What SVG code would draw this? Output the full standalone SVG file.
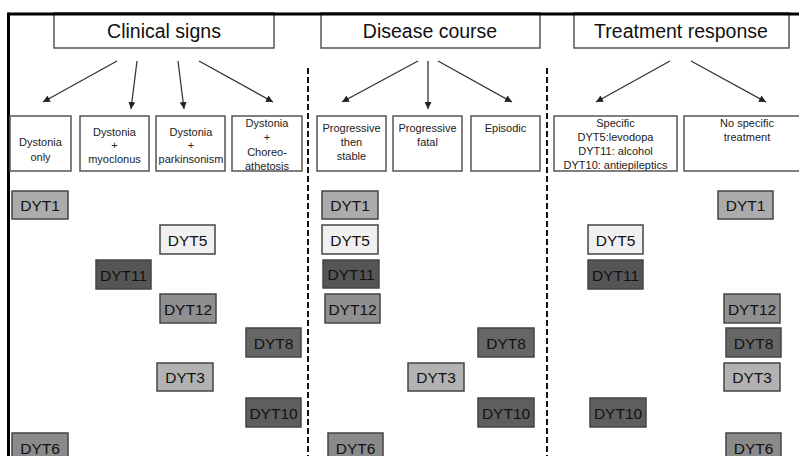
<svg xmlns="http://www.w3.org/2000/svg" width="799" height="456" viewBox="0 0 799 456">
<defs>
<style>
.frame{stroke:#000;stroke-width:3;fill:none}
.box{fill:#fff;stroke:#555;stroke-width:1.5}
.title{font-family:"Liberation Sans",Arial,sans-serif;font-size:19.5px;fill:#111;text-anchor:middle}
.cat{font-family:"Liberation Sans",Arial,sans-serif;font-size:11px;fill:#222;text-anchor:middle}
.dyt rect{stroke:#444;stroke-width:1.5}
.dyt text{font-family:"Liberation Sans",Arial,sans-serif;font-size:15.5px;fill:#111;text-anchor:middle}
.arrow{stroke:#333;stroke-width:1.3;fill:none;marker-end:url(#ah)}
.sep{stroke:#111;stroke-width:2;stroke-dasharray:6 3;fill:none}
.c1{fill:#ababab}.c5{fill:#f0f0f0}.c11{fill:#555}.c12{fill:#8f8f8f}.c8{fill:#666}.c3{fill:#b2b2b2}.c10{fill:#5e5e5e}.c6{fill:#8a8a8a}
</style>
<marker id="ah" viewBox="0 0 10 10" refX="10" refY="5" markerWidth="7" markerHeight="7" markerUnits="userSpaceOnUse" orient="auto">
<path d="M0,0 L10,5 L0,10 z" fill="#222"/>
</marker>
</defs>
<rect width="799" height="456" fill="#fff"/>

<g id="separators">
<line class="sep" x1="308" y1="68" x2="308" y2="456"/>
<line class="sep" x1="547" y1="68" x2="547" y2="456"/>
</g>

<g id="title-clinical"><rect class="box" x="54" y="13" width="220" height="35"/><text class="title" x="164" y="38">Clinical signs</text></g>
<g id="title-disease"><rect class="box" x="321" y="13" width="219" height="35"/><text class="title" x="430" y="38">Disease course</text></g>
<g id="title-treatment"><rect class="box" x="574" y="13" width="215" height="35"/><text class="title" x="681" y="38">Treatment response</text></g>

<g id="frame">
<line class="frame" x1="8.5" y1="14" x2="799" y2="14"/>
<line class="frame" x1="8.5" y1="12.5" x2="8.5" y2="456"/>
</g>

<g id="connectors">
<line class="arrow" x1="117" y1="61" x2="43" y2="102"/>
<line class="arrow" x1="137" y1="61" x2="131" y2="109"/>
<line class="arrow" x1="178" y1="61" x2="184" y2="109"/>
<line class="arrow" x1="199" y1="61" x2="273" y2="102"/>
<line class="arrow" x1="418" y1="61" x2="342" y2="102"/>
<line class="arrow" x1="428" y1="61" x2="428" y2="109"/>
<line class="arrow" x1="438" y1="61" x2="512" y2="102"/>
<line class="arrow" x1="670" y1="61" x2="596" y2="102"/>
<line class="arrow" x1="691" y1="61" x2="766" y2="102"/>
</g>

<g id="cat-dystonia-only"><rect class="box" x="10" y="116" width="61" height="55"/><text class="cat" x="40.5" y="146">Dystonia</text><text class="cat" x="40.5" y="161">only</text></g>
<g id="cat-myoclonus"><rect class="box" x="80" y="116" width="69" height="55"/><text class="cat" x="114.5" y="136">Dystonia</text><text class="cat" x="114.5" y="149">+</text><text class="cat" x="114.5" y="163">myoclonus</text></g>
<g id="cat-parkinsonism"><rect class="box" x="156" y="116" width="69" height="55"/><text class="cat" x="191" y="136">Dystonia</text><text class="cat" x="191" y="149">+</text><text class="cat" x="191" y="163">parkinsonism</text></g>
<g id="cat-choreo"><rect class="box" x="232" y="116" width="70" height="55"/><text class="cat" x="267" y="127">Dystonia</text><text class="cat" x="267" y="141">+</text><text class="cat" x="267" y="156">Choreo-</text><text class="cat" x="267" y="170">athetosis</text></g>
<g id="cat-prog-stable"><rect class="box" x="317" y="116" width="69" height="55"/><text class="cat" x="351.5" y="132">Progressive</text><text class="cat" x="351.5" y="146">then</text><text class="cat" x="351.5" y="160">stable</text></g>
<g id="cat-prog-fatal"><rect class="box" x="393" y="116" width="69" height="55"/><text class="cat" x="427.5" y="132">Progressive</text><text class="cat" x="427.5" y="146">fatal</text></g>
<g id="cat-episodic"><rect class="box" x="471" y="116" width="69" height="55"/><text class="cat" x="505.5" y="132">Episodic</text></g>
<g id="cat-specific"><rect class="box" x="554" y="116" width="123" height="55"/><text class="cat" x="615.5" y="127">Specific</text><text class="cat" x="615.5" y="141">DYT5:levodopa</text><text class="cat" x="615.5" y="154.5">DYT11: alcohol</text><text class="cat" x="615.5" y="169">DYT10: antiepileptics</text></g>
<g id="cat-nonspecific"><rect class="box" x="684" y="116" width="130" height="55"/><text class="cat" x="747" y="127">No specific</text><text class="cat" x="747" y="141">treatment</text></g>

<g id="clin-dyt1" class="dyt"><rect class="c1" x="12" y="191" width="56" height="28"/><text x="40" y="211">DYT1</text></g>
<g id="clin-dyt5" class="dyt"><rect class="c5" x="160" y="225" width="55" height="29"/><text x="187.5" y="245.5">DYT5</text></g>
<g id="clin-dyt11" class="dyt"><rect class="c11" x="96" y="260" width="55" height="29"/><text x="123.5" y="280.5">DYT11</text></g>
<g id="clin-dyt12" class="dyt"><rect class="c12" x="160" y="294" width="56" height="29"/><text x="188" y="314.5">DYT12</text></g>
<g id="clin-dyt8" class="dyt"><rect class="c8" x="246" y="328" width="55" height="29"/><text x="273.5" y="348.5">DYT8</text></g>
<g id="clin-dyt3" class="dyt"><rect class="c3" x="157" y="363" width="56" height="28"/><text x="185" y="383">DYT3</text></g>
<g id="clin-dyt10" class="dyt"><rect class="c10" x="246" y="398" width="55" height="29"/><text x="273.5" y="418.5">DYT10</text></g>
<g id="clin-dyt6" class="dyt"><rect class="c6" x="12" y="433" width="56" height="29"/><text x="40" y="453.5">DYT6</text></g>

<g id="dis-dyt1" class="dyt"><rect class="c1" x="322" y="191" width="56" height="28"/><text x="350" y="211">DYT1</text></g>
<g id="dis-dyt5" class="dyt"><rect class="c5" x="322" y="225" width="56" height="29"/><text x="350" y="245.5">DYT5</text></g>
<g id="dis-dyt11" class="dyt"><rect class="c11" x="323" y="260" width="56" height="28"/><text x="351" y="280">DYT11</text></g>
<g id="dis-dyt12" class="dyt"><rect class="c12" x="325" y="294" width="55" height="29"/><text x="352.5" y="314.5">DYT12</text></g>
<g id="dis-dyt8" class="dyt"><rect class="c8" x="478" y="328" width="56" height="29"/><text x="506" y="348.5">DYT8</text></g>
<g id="dis-dyt3" class="dyt"><rect class="c3" x="408" y="363" width="56" height="28"/><text x="436" y="383">DYT3</text></g>
<g id="dis-dyt10" class="dyt"><rect class="c10" x="478" y="398" width="56" height="29"/><text x="506" y="418.5">DYT10</text></g>
<g id="dis-dyt6" class="dyt"><rect class="c6" x="328" y="433" width="55" height="29"/><text x="355.5" y="453.5">DYT6</text></g>

<g id="tr-dyt1" class="dyt"><rect class="c1" x="718" y="191" width="55" height="28"/><text x="745.5" y="211">DYT1</text></g>
<g id="tr-dyt5" class="dyt"><rect class="c5" x="588" y="225" width="55" height="29"/><text x="615.5" y="245.5">DYT5</text></g>
<g id="tr-dyt11" class="dyt"><rect class="c11" x="588" y="260" width="55" height="29"/><text x="615.5" y="280.5">DYT11</text></g>
<g id="tr-dyt12" class="dyt"><rect class="c12" x="724" y="294" width="56" height="29"/><text x="752" y="314.5">DYT12</text></g>
<g id="tr-dyt8" class="dyt"><rect class="c8" x="726" y="328" width="55" height="29"/><text x="753.5" y="348.5">DYT8</text></g>
<g id="tr-dyt3" class="dyt"><rect class="c3" x="724" y="363" width="56" height="28"/><text x="752" y="383">DYT3</text></g>
<g id="tr-dyt10" class="dyt"><rect class="c10" x="590" y="398" width="56" height="29"/><text x="618" y="418.5">DYT10</text></g>
<g id="tr-dyt6" class="dyt"><rect class="c6" x="726" y="433" width="55" height="29"/><text x="753.5" y="453.5">DYT6</text></g>
</svg>
